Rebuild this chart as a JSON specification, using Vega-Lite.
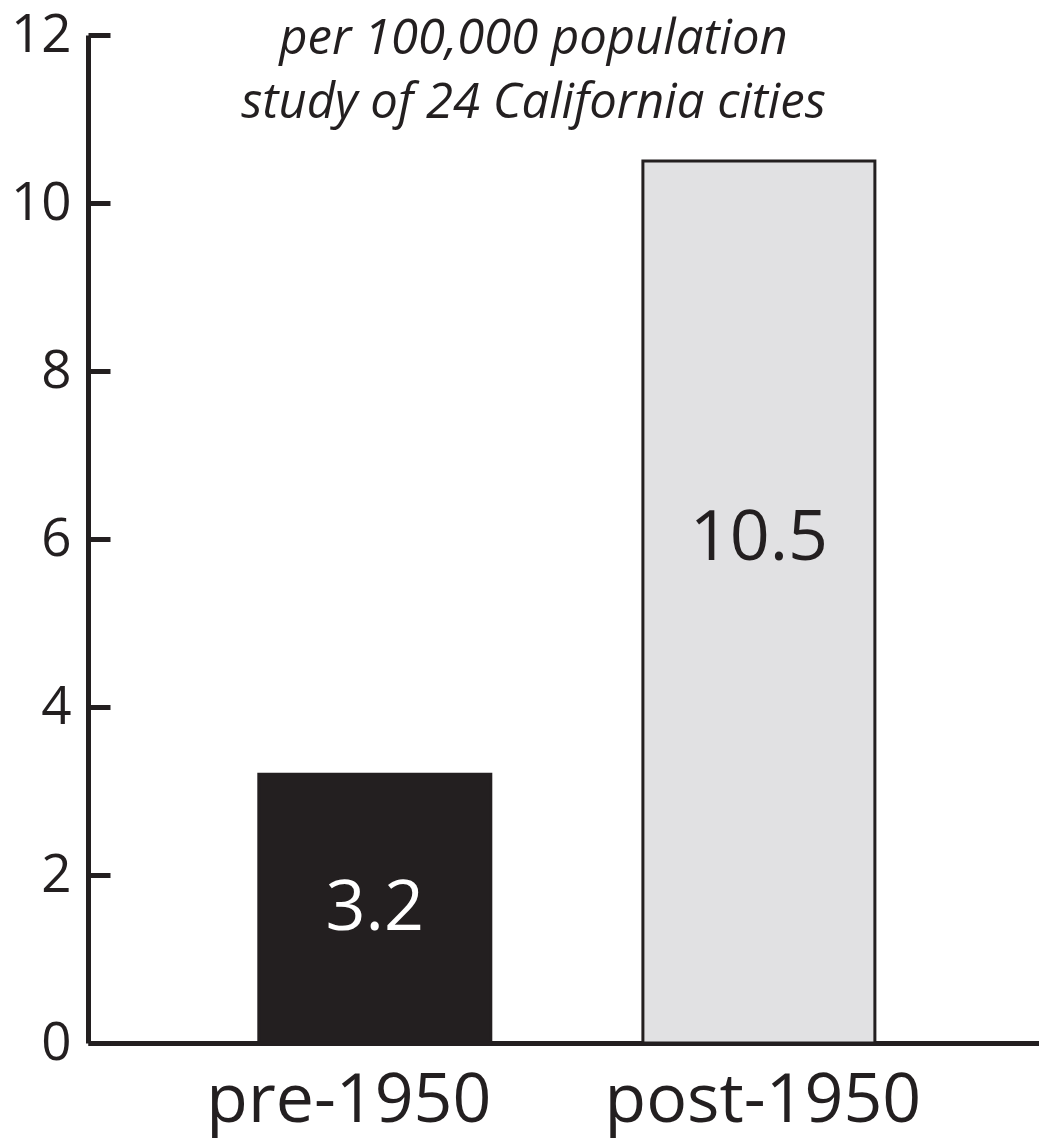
{
  "$schema": "https://vega.github.io/schema/vega-lite/v6.json",
  "autosize": "none",
  "width": 951,
  "height": 1008,
  "padding": {"left": 88, "top": 35, "right": 0, "bottom": 100},
  "background": "white",
  "config": {"view": {"stroke": null}, "font": "Open Sans"},
  "title": {
    "text": ["per 100,000 population", "study of 24 California cities"],
    "font": "Open Sans",
    "fontStyle": "italic",
    "fontWeight": "normal",
    "fontSize": 49,
    "lineHeight": 64,
    "color": "#231f20",
    "anchor": "middle",
    "baseline": "top",
    "dx": -30,
    "offset": -119
  },
  "data": {"values": [
    {"period": "pre-1950", "value": 3.2},
    {"period": "post-1950", "value": 10.5}
  ]},
  "encoding": {
    "x": {
      "field": "period", "type": "nominal", "sort": ["pre-1950", "post-1950"],
      "scale": {"paddingInner": 0.396, "paddingOuter": 0.436, "align": 0.51},
      "axis": {
        "title": null, "labelAngle": 0, "labelFontSize": 68, "labelColor": "#231f20",
        "labelFont": "Open Sans", "labelPadding": 24, "labelLimit": 0, "ticks": false,
        "labelOffset": {"condition": {"test": "datum.value == 'pre-1950'", "value": -26}, "value": 4},
        "domainColor": "#231f20", "domainWidth": 5
      }
    },
    "y": {
      "field": "value", "type": "quantitative",
      "scale": {"domain": [0, 12], "nice": false},
      "axis": {
        "title": null, "values": [0, 2, 4, 6, 8, 10, 12], "grid": false,
        "labelFontSize": 53, "labelColor": "#231f20", "labelFont": "Open Sans",
        "labelPadding": 39, "tickSize": -22, "tickWidth": 5, "tickColor": "#231f20",
        "domainColor": "#231f20", "domainWidth": 5
      }
    }
  },
  "layer": [
    {
      "mark": {"type": "bar", "stroke": "#231f20", "strokeWidth": 3},
      "encoding": {
        "color": {
          "field": "period", "type": "nominal",
          "scale": {"domain": ["pre-1950", "post-1950"], "range": ["#231f20", "#e1e1e3"]},
          "legend": null
        }
      }
    },
    {
      "transform": [{"filter": "datum.period == 'pre-1950'"}],
      "mark": {"type": "text", "fontSize": 70, "color": "white", "baseline": "middle", "dy": 135, "font": "Open Sans"},
      "encoding": {"text": {"field": "value", "type": "quantitative", "format": ".1f"}}
    },
    {
      "transform": [{"filter": "datum.period == 'post-1950'"}],
      "mark": {"type": "text", "fontSize": 70, "color": "#231f20", "baseline": "middle", "dy": 378, "font": "Open Sans"},
      "encoding": {"text": {"field": "value", "type": "quantitative", "format": ".1f"}}
    }
  ]
}
